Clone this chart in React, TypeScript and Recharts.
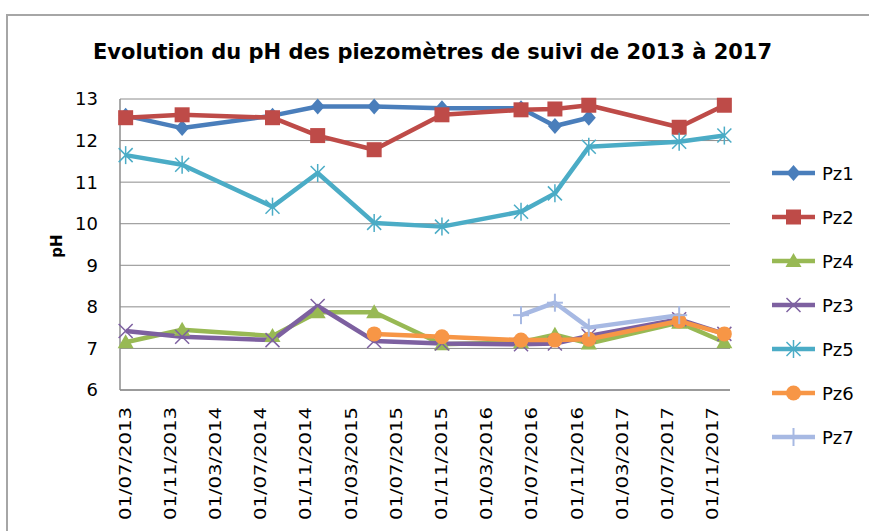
import React from "react";
import { LineChart, Line, XAxis, YAxis, CartesianGrid } from "recharts";

// Sampling dates (month/year) and series values
const sampleDates = ["07/2013", "12/2013", "08/2014", "12/2014", "05/2015", "11/2015", "06/2016", "09/2016", "12/2016", "08/2017", "12/2017"];
const pz1 = [12.6, 12.3, 12.6, 12.82, 12.82, 12.78, 12.78, 12.35, 12.55, null, null];
const pz2 = [12.55, 12.62, 12.55, 12.12, 11.78, 12.62, 12.74, 12.76, 12.85, 12.32, 12.85];
const pz4 = [7.15, 7.45, 7.3, 7.87, 7.87, 7.1, 7.15, 7.33, 7.12, 7.62, 7.15];
const pz3 = [7.42, 7.28, 7.2, 8.02, 7.18, 7.12, 7.1, 7.12, 7.3, 7.7, 7.35];
const pz5 = [11.65, 11.42, 10.41, 11.22, 10.02, 9.93, 10.29, 10.73, 11.85, 11.97, 12.12];
const pz6 = [null, null, null, null, 7.35, 7.28, 7.2, 7.2, 7.22, 7.66, 7.35];
const pz7 = [null, null, null, null, null, null, 7.8, 8.1, 7.5, 7.8, null];

const xTickLabels = ["01/07/2013", "01/11/2013", "01/03/2014", "01/07/2014", "01/11/2014", "01/03/2015", "01/07/2015", "01/11/2015", "01/03/2016", "01/07/2016", "01/11/2016", "01/03/2017", "01/07/2017", "01/11/2017"];
const yTicks = [6, 7, 8, 9, 10, 11, 12, 13];

const title = "Evolution du pH des piezomètres de suivi de 2013 à 2017";

type Shape = "diamond" | "square" | "triangle" | "x" | "star" | "circle" | "plus";
const seriesDefs: { key: string; name: string; color: string; shape: Shape; values: (number | null)[] }[] = [
  { key: "pz1", name: "Pz1", color: "#4A7EBB", shape: "diamond", values: pz1 },
  { key: "pz2", name: "Pz2", color: "#BE4B48", shape: "square", values: pz2 },
  { key: "pz4", name: "Pz4", color: "#98B954", shape: "triangle", values: pz4 },
  { key: "pz3", name: "Pz3", color: "#7D60A0", shape: "x", values: pz3 },
  { key: "pz5", name: "Pz5", color: "#4BACC6", shape: "star", values: pz5 },
  { key: "pz6", name: "Pz6", color: "#F79646", shape: "circle", values: pz6 },
  { key: "pz7", name: "Pz7", color: "#A7B9E3", shape: "plus", values: pz7 },
];

// month index from 07/2013
const monthIndex = (s: string) => {
  const [mm, yy] = s.split("/").map(Number);
  return (yy - 2013) * 12 + (mm - 7);
};
const labelIndex = (s: string) => {
  const [, mm, yy] = s.split("/").map(Number);
  return (yy - 2013) * 12 + (mm - 7);
};
const xTicks = xTickLabels.map(labelIndex);
const labelFor: Record<number, string> = {};
xTickLabels.forEach((l) => (labelFor[labelIndex(l)] = l));

const data = sampleDates.map((d, i) => {
  const row: Record<string, number | null> = { m: monthIndex(d) };
  seriesDefs.forEach((s) => (row[s.key] = s.values[i]));
  return row;
});

function Marker({ cx, cy, shape, color }: { cx?: number; cy?: number; shape: Shape; color: string }) {
  if (cx == null || cy == null || isNaN(cx) || isNaN(cy)) return <g />;
  switch (shape) {
    case "diamond":
      return <polygon points={`${cx},${cy - 8} ${cx + 7},${cy} ${cx},${cy + 8} ${cx - 7},${cy}`} fill={color} />;
    case "square":
      return <rect x={cx - 7.5} y={cy - 7.5} width={15} height={15} fill={color} />;
    case "triangle":
      return <polygon points={`${cx},${cy - 8} ${cx + 8},${cy + 6} ${cx - 8},${cy + 6}`} fill={color} />;
    case "x":
      return (
        <g stroke={color} strokeWidth={1.5}>
          <line x1={cx - 7} y1={cy - 7} x2={cx + 7} y2={cy + 7} />
          <line x1={cx - 7} y1={cy + 7} x2={cx + 7} y2={cy - 7} />
        </g>
      );
    case "star":
      return (
        <g stroke={color} strokeWidth={1.5}>
          <line x1={cx - 7} y1={cy - 7} x2={cx + 7} y2={cy + 7} />
          <line x1={cx - 7} y1={cy + 7} x2={cx + 7} y2={cy - 7} />
          <line x1={cx} y1={cy - 9} x2={cx} y2={cy + 9} />
        </g>
      );
    case "circle":
      return <circle cx={cx} cy={cy} r={7.5} fill={color} />;
    case "plus":
      return (
        <g stroke={color} strokeWidth={2}>
          <line x1={cx - 8} y1={cy} x2={cx + 8} y2={cy} />
          <line x1={cx} y1={cy - 9} x2={cx} y2={cy + 9} />
        </g>
      );
  }
  return <g />;
}

const XTick = (props: any) => {
  const { x, y, payload } = props;
  return (
    <g transform={`translate(${x},${y})`}>
      <text
        transform="rotate(-90)"
        textAnchor="end"
        dominantBaseline="central"
        fontFamily="DejaVu Sans"
        fontSize={15}
        fill="#000"
        textLength={113}
        lengthAdjust="spacingAndGlyphs"
      >
        {labelFor[payload.value]}
      </text>
    </g>
  );
};

export default function App() {
  const legendTop = 173;
  const legendStep = 44;
  return (
    <div style={{ position: "absolute", left: 0, top: 0, width: 869, height: 531, overflow: "hidden", background: "#fff" }}>
      <div style={{ position: "absolute", left: 6, top: 14, width: 900, height: 600, border: "2px solid #A6A6A6", boxSizing: "border-box" }} />
      <div style={{ position: "absolute", left: 0, top: 0 }}>
        <LineChart width={869} height={531} data={data} margin={{ top: 99, right: 139, bottom: 0, left: 0 }}>
          <CartesianGrid vertical={false} stroke="#8C8C8C" strokeWidth={1} />
          <XAxis
            dataKey="m"
            type="number"
            domain={[-0.5, 53.5]}
            ticks={xTicks}
            interval={0}
            height={141}
            tickLine={false}
            tickSize={0}
            tickMargin={17}
            axisLine={{ stroke: "#8C8C8C", strokeWidth: 1.5 }}
            tick={<XTick />}
          />
          <YAxis
            type="number"
            domain={[6, 13]}
            ticks={yTicks}
            interval={0}
            width={120}
            tickLine={false}
            tickSize={0}
            tickMargin={22}
            axisLine={{ stroke: "#8C8C8C", strokeWidth: 1.5 }}
            tick={{ fontFamily: "DejaVu Sans", fontSize: 18, fill: "#000" }}
          />
          {seriesDefs.map((s) => (
            <Line
              key={s.key}
              dataKey={s.key}
              name={s.name}
              type="linear"
              stroke={s.color}
              strokeWidth={4.5}
              strokeLinejoin="round"
              connectNulls={false}
              isAnimationActive={false}
              activeDot={false}
              dot={(p: any) => <Marker key={`${s.key}-${p.index}`} cx={p.cx} cy={p.cy} shape={s.shape} color={s.color} />}
            />
          ))}
        </LineChart>
      </div>
      <svg width={869} height={531} style={{ position: "absolute", left: 0, top: 0, pointerEvents: "none" }}>
        <text x={432.5} y={59} textAnchor="middle" fontFamily="DejaVu Sans" fontWeight="bold" fontSize={22} fill="#000" textLength={679} lengthAdjust="spacingAndGlyphs">
          {title}
        </text>
        <text transform="translate(57,246) rotate(-90)" textAnchor="middle" dominantBaseline="central" fontFamily="DejaVu Sans" fontWeight="bold" fontSize={15} fill="#000">
          pH
        </text>
        {seriesDefs.map((s, i) => {
          const y = legendTop + i * legendStep;
          return (
            <g key={s.key}>
              <line x1={772} y1={y} x2={815} y2={y} stroke={s.color} strokeWidth={4.5} />
              <Marker cx={793.5} cy={y} shape={s.shape} color={s.color} />
              <text x={822} y={y} dominantBaseline="central" fontFamily="DejaVu Sans" fontSize={18} fill="#000">
                {s.name}
              </text>
            </g>
          );
        })}
      </svg>
    </div>
  );
}
